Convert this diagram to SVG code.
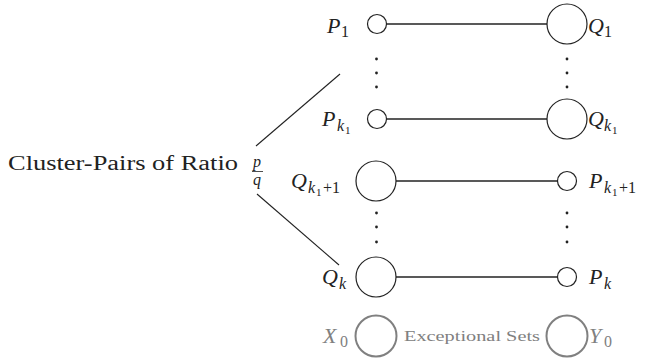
<svg xmlns="http://www.w3.org/2000/svg" width="646" height="361" viewBox="0 0 646 361">
<style>
.n{fill:none;stroke:#222;stroke-width:1.2}
.g{fill:none;stroke:#808080;stroke-width:2}
.e{stroke:#222;stroke-width:1.4;fill:none}
.d{stroke:#222;stroke-width:1.1;fill:none}
text{font-family:'Liberation Serif','DejaVu Serif',serif;fill:#222}
.v{font-style:italic;font-size:22px}
.s{font-size:16px}
.si{font-style:italic;font-size:16px}
.ss{font-size:11px}
.gr{fill:#808080}
.dot{fill:#222}
</style>
<rect width="646" height="361" fill="#fff"/>
<g id="connectors">
<line class="e" x1="386.5" y1="24" x2="547" y2="24"/>
<line class="e" x1="386.5" y1="119" x2="547" y2="119"/>
<line class="e" x1="396" y1="181" x2="557.5" y2="181"/>
<line class="e" x1="396" y1="277" x2="557.5" y2="277"/>
<line class="d" x1="256" y1="146" x2="340" y2="74"/>
<line class="d" x1="257" y1="194" x2="339" y2="265"/>
</g>
<g id="dots">
<circle class="dot" cx="376.5" cy="59" r="1.4"/><circle class="dot" cx="376.5" cy="73" r="1.4"/><circle class="dot" cx="376.5" cy="87" r="1.4"/>
<circle class="dot" cx="567" cy="59" r="1.4"/><circle class="dot" cx="567" cy="73" r="1.4"/><circle class="dot" cx="567" cy="87" r="1.4"/>
<circle class="dot" cx="376.5" cy="213" r="1.4"/><circle class="dot" cx="376.5" cy="227" r="1.4"/><circle class="dot" cx="376.5" cy="242" r="1.4"/>
<circle class="dot" cx="567" cy="213" r="1.4"/><circle class="dot" cx="567" cy="227" r="1.4"/><circle class="dot" cx="567" cy="242" r="1.4"/>
</g>
<g id="title">
<text x="8" y="170" font-size="20" textLength="230" lengthAdjust="spacingAndGlyphs">Cluster-Pairs of Ratio</text>
<text class="si" x="253" y="167">p</text>
<line x1="252" y1="171.5" x2="263" y2="171.5" stroke="#222" stroke-width="0.8"/>
<text class="si" x="253" y="185">q</text>
</g>
<g id="P1">
<circle class="n" cx="377" cy="24" r="9.5"/>
<text class="v" x="327" y="33">P</text><text class="s" x="341" y="37">1</text>
</g>
<g id="Q1">
<circle class="n" cx="567" cy="24" r="20"/>
<text class="v" x="588" y="33">Q</text><text class="s" x="604" y="37">1</text>
</g>
<g id="Pk1">
<circle class="n" cx="377" cy="119" r="9.5"/>
<text class="v" x="322" y="126">P</text><text class="si" x="337" y="131">k</text><text class="ss" x="345" y="134">1</text>
</g>
<g id="Qk1">
<circle class="n" cx="567" cy="119" r="20"/>
<text class="v" x="588" y="126">Q</text><text class="si" x="604" y="131">k</text><text class="ss" x="612" y="134">1</text>
</g>
<g id="Qk1p1">
<circle class="n" cx="376" cy="181" r="20"/>
<text class="v" x="291" y="188">Q</text><text class="si" x="308" y="193">k</text><text class="ss" x="316" y="196">1</text><text class="s" x="323" y="193">+1</text>
</g>
<g id="Pk1p1">
<circle class="n" cx="567" cy="181" r="9.5"/>
<text class="v" x="589" y="188">P</text><text class="si" x="604" y="193">k</text><text class="ss" x="612" y="196">1</text><text class="s" x="619" y="193">+1</text>
</g>
<g id="Qk">
<circle class="n" cx="376" cy="277" r="20"/>
<text class="v" x="322" y="284">Q</text><text class="si" x="339" y="289">k</text>
</g>
<g id="Pk">
<circle class="n" cx="567" cy="277" r="9.5"/>
<text class="v" x="589" y="284">P</text><text class="si" x="604" y="289">k</text>
</g>
<g id="X0">
<circle class="g" cx="376" cy="336" r="20.5"/>
<text class="v gr" x="323" y="343">X</text><text class="s gr" x="340" y="347">0</text>
</g>
<g id="Y0">
<circle class="g" cx="567" cy="336" r="20.5"/>
<text class="v gr" x="589" y="343">Y</text><text class="s gr" x="604" y="347">0</text>
</g>
<text class="gr" x="404" y="341" font-size="15" textLength="136" lengthAdjust="spacingAndGlyphs">Exceptional Sets</text>
</svg>
